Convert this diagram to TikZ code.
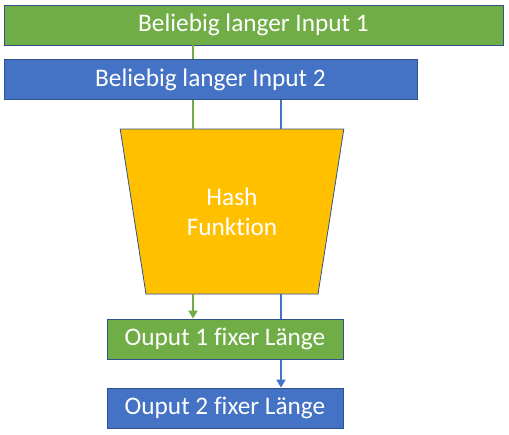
\documentclass[tikz,border=0pt]{standalone}
\usepackage{fontspec}
\setmainfont{Carlito}[Ligatures=NoCommon]
\usetikzlibrary{positioning,shapes.geometric,arrows.meta}
\definecolor{ingreen}{HTML}{70AD47}
\definecolor{inblue}{HTML}{4472C4}
\definecolor{hashgold}{HTML}{FFC000}
\definecolor{rimblue}{HTML}{2F528F}
\begin{document}
\begin{tikzpicture}[x=1pt,y=-1pt, box/.style={draw=rimblue,line width=0.8pt,minimum height=40pt,inner sep=0pt,text=white,font=\fontsize{25.3}{30}\selectfont},
  link/.style={line width=2.5pt},
  tip/.style={-{Triangle[width=9pt,length=8pt]}}]
              \useasboundingbox (0,0) rectangle (509,434);
              \coordinate (g) at (193,0);
              \coordinate (b) at (281,0);

              \node[box,fill=ingreen,minimum width=499pt] (in1) at (253.5,25) {Beliebig langer Input 1};
              \node[trapezium,trapezium stretches=true,shape border rotate=180,trapezium left angle=75,trapezium right angle=75,
                    draw=rimblue,line width=0.8pt,fill=hashgold,minimum width=224pt,minimum height=165pt,
                    text=white,align=center,font=\fontsize{25.3}{30}\selectfont] (hash) at (232,211.5) {Hash\\Funktion};

              \draw[link,ingreen] (in1.south -| g) -- (hash.north -| g);
              \node[box,fill=inblue,minimum width=413pt] (in2) at (210.5,79.5) {Beliebig langer Input 2};
              \draw[link,inblue] (in2.south -| b) -- (hash.north -| b);

              \node[box,fill=inblue,minimum width=236pt] (out2) at (225,408) {Ouput 2 fixer Länge};
              \draw[link,inblue,tip] (hash.south -| b) -- (out2.north -| b);
              \node[box,fill=ingreen,minimum width=236pt] (out1) at (225,339) {Ouput 1 fixer Länge};
              \draw[link,ingreen,tip] (hash.south -| g) -- (out1.north -| g);
            \end{tikzpicture}
\end{document}
